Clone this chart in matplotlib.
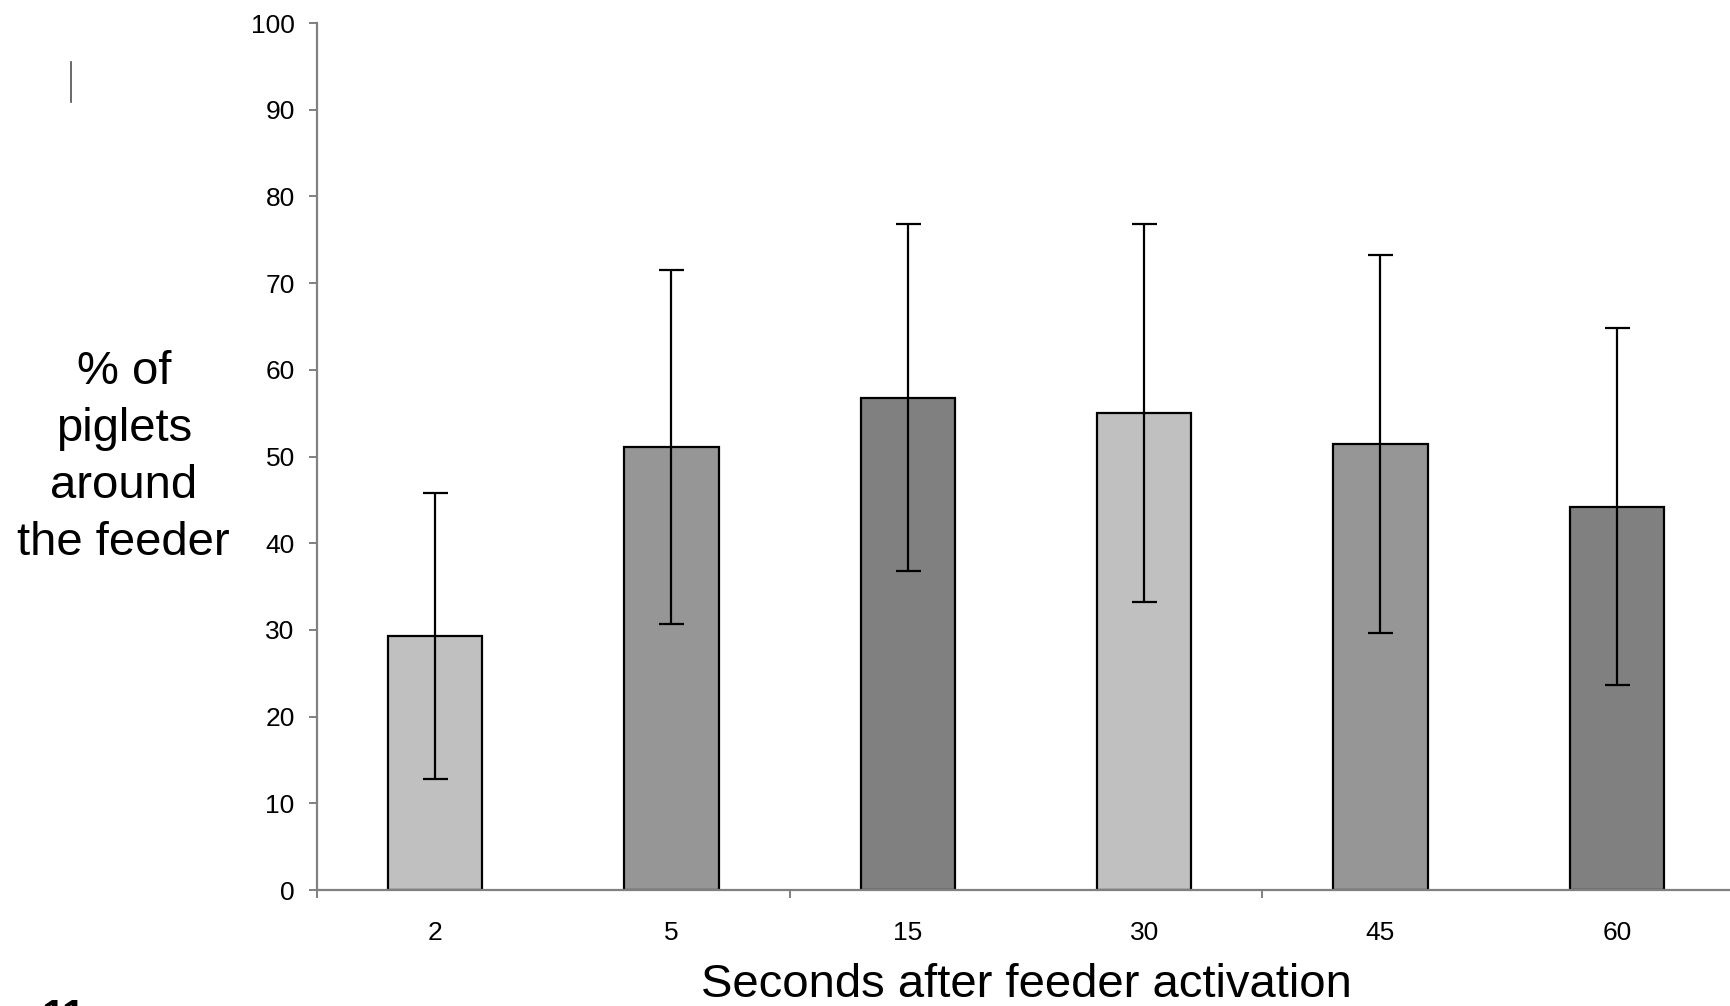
import matplotlib.pyplot as plt
from matplotlib.lines import Line2D
import numpy as np

plt.rcParams['font.family'] = ['Liberation Sans', 'DejaVu Sans']

# data
seconds = ['2', '5', '15', '30', '45', '60']
pct_piglets = [29.3, 51.1, 56.8, 55.0, 51.5, 44.2]
pct_err = [16.5, 20.4, 20.0, 21.8, 21.8, 20.6]
bar_colors = ['#c0c0c0', '#969696', '#808080', '#c0c0c0', '#969696', '#808080']
y_ticks = [0, 10, 20, 30, 40, 50, 60, 70, 80, 90, 100]

fig = plt.figure(figsize=(17.31, 10.06), dpi=100)
ax = fig.add_axes([0.1831, 0.1153, 0.8192, 0.8618])

x = np.arange(len(seconds))
ax.bar(x, pct_piglets, width=0.4, color=bar_colors, edgecolor='black',
       linewidth=1.6, zorder=2)
ax.errorbar(x, pct_piglets, yerr=pct_err, fmt='none', ecolor='black',
            elinewidth=1.6, capsize=9, capthick=1.6, zorder=3)

ax.set_xlim(-0.5, len(seconds) - 0.5)
ax.set_ylim(0, 100)

for s in ['top', 'right']:
    ax.spines[s].set_visible(False)
for s in ['left', 'bottom']:
    ax.spines[s].set_color('#808080')
    ax.spines[s].set_linewidth(1.6)

ax.set_yticks(y_ticks)
ax.tick_params(axis='y', direction='out', length=6, width=1.4, color='#808080',
               labelsize=19, pad=10)

# category labels at centres, tick marks every two categories
ax.set_xticks(x)
ax.set_xticklabels(seconds)
ax.tick_params(axis='x', which='major', length=0, labelsize=19, pad=22)
ax.set_xticks(np.arange(-0.5, len(seconds), 2), minor=True)
ax.tick_params(axis='x', which='minor', direction='out', length=6, width=1.4,
               color='#808080')

ax.set_xlabel('Seconds after feeder activation', fontsize=34, labelpad=13)
fig.text(0.0715, 0.545, '% of\npiglets\naround\nthe feeder', fontsize=34,
         ha='center', va='center', multialignment='center', linespacing=1.38)

# stray marks from the slide
fig.add_artist(Line2D([70.7 / 1731, 70.7 / 1731], [1 - 62 / 1006, 1 - 102 / 1006],
                      color='#505050', linewidth=1.2))
fig.text(0.024, 0.008, '11', fontsize=30, fontweight='bold', va='top', ha='left')

fig.savefig('out.png', dpi=100)
